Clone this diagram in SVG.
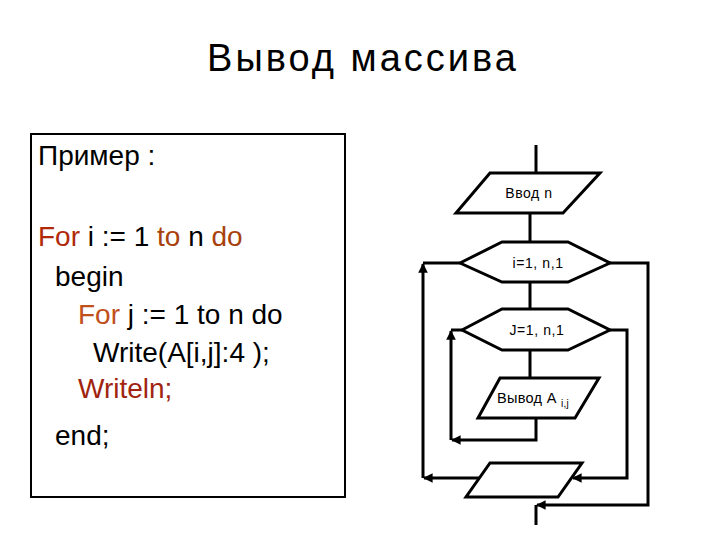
<svg xmlns="http://www.w3.org/2000/svg" width="720" height="540" viewBox="0 0 720 540">
<defs>
<marker id="arr" viewBox="0 0 10 10" refX="9" refY="5" markerWidth="3.2" markerHeight="3.2" orient="auto" markerUnits="strokeWidth">
<path d="M0,0 L10,5 L0,10 z" fill="#000"/>
</marker>
</defs>
<style>
.t{font-family:"Liberation Sans",Arial,sans-serif;fill:#000}
.code{font-size:28px}
.sh{fill:#fff;stroke:#000;stroke-width:3;stroke-linejoin:miter}
.ln{fill:none;stroke:#000;stroke-width:3}
.fc{font-size:14px;text-anchor:middle;letter-spacing:0.6px}
.kw1{fill:#b02a08}
.kw2{fill:#a8420c}
.kw3{fill:#c0501a}
.kw4{fill:#a02410}
</style>
<rect width="720" height="540" fill="#fff"/>
<text class="t" x="363" y="71" font-size="38" letter-spacing="3" text-anchor="middle">Вывод массива</text>

<g id="code-box">
<rect x="31" y="134" width="314" height="363" fill="#fff" stroke="#000" stroke-width="2"/>
<text class="t" x="38" y="165" font-size="28">Пример :</text>
<text class="t code" x="38" y="246"><tspan class="kw1">For</tspan> i := 1 <tspan class="kw2">to</tspan> n <tspan class="kw2">do</tspan></text>
<text class="t code" x="55" y="286">begin</text>
<text class="t code" x="78" y="324"><tspan class="kw3">For</tspan> j := 1 to n do</text>
<text class="t code" x="93" y="362">Write(A[i,j]:4 );</text>
<text class="t code kw4" x="78" y="398">Writeln;</text>
<text class="t code" x="55" y="445">end;</text>
</g>

<g id="connectors">
<path class="ln" d="M536,145 V173"/>
<path class="ln" d="M530,213 V242"/>
<path class="ln" d="M530,282 V309"/>
<path class="ln" d="M530,350 V378"/>
<path class="ln" d="M536,418 V440 H452" marker-end="url(#arr)"/>
<path class="ln" d="M451,440 V331" marker-end="url(#arr)"/>
<path class="ln" d="M451,330 H462"/>
<path class="ln" d="M479,478 H424" marker-end="url(#arr)"/>
<path class="ln" d="M423,478 V264" marker-end="url(#arr)"/>
<path class="ln" d="M423,263 H460"/>
<path class="ln" d="M610,330 H627 V478 H573" marker-end="url(#arr)"/>
<path class="ln" d="M610,263 H648 V505 H537" marker-end="url(#arr)"/>
<path class="ln" d="M536,505 V525"/>
</g>

<g id="input-n">
<polygon class="sh" points="490,173 600,173 563,213 456,213"/>
<text class="t fc" x="529" y="198">Ввод n</text>
</g>

<g id="loop-i">
<polygon class="sh" points="460,263 502,242 568,242 610,263 568,282 502,282"/>
<text class="t fc" x="538" y="268">i=1, n,1</text>
</g>

<g id="loop-j">
<polygon class="sh" points="462,330 502,309 568,309 610,330 568,350 502,350"/>
<text class="t fc" x="537" y="335">J=1, n,1</text>
</g>

<g id="output-a">
<polygon class="sh" points="500,378 599,378 575,418 478,418"/>
<text class="t" x="497" y="403" font-size="14.5" letter-spacing="0.3">Вывод А <tspan font-size="10" dy="4">i,j</tspan></text>
</g>

<g id="end-block">
<polygon class="sh" points="490,463 582,463 558,497 466,497"/>
</g>
</svg>
